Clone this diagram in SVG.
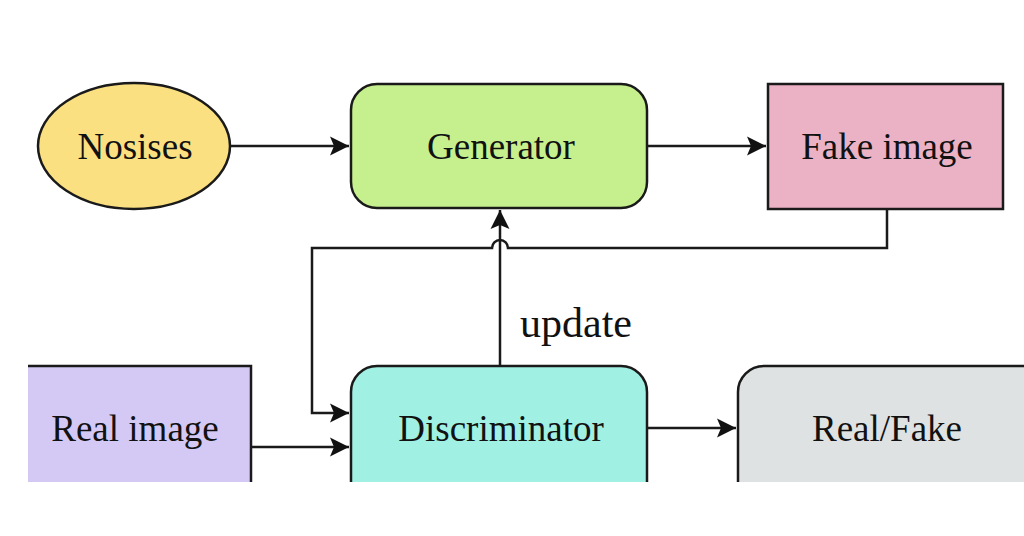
<svg xmlns="http://www.w3.org/2000/svg" width="1024" height="536" viewBox="0 0 1024 536">
<style>
.node{stroke:#1a1a1a;stroke-width:2.5}
.lbl{font-family:"Liberation Serif","Times New Roman",serif;font-size:37px;fill:#111;text-anchor:middle}
.edge{fill:none;stroke:#1a1a1a;stroke-width:2.5}
</style>
<defs>
<marker id="ah" markerUnits="userSpaceOnUse" markerWidth="22" markerHeight="22" refX="19" refY="11" orient="auto">
<path d="M0,1.5 L19,11 L0,20.5 L4,11 Z" fill="#111"/>
</marker>
<clipPath id="crop"><rect x="28" y="0" width="996" height="482"/></clipPath>
</defs>
<rect width="1024" height="536" fill="#fff"/>
<g clip-path="url(#crop)">
<g id="nosises"><ellipse class="node" cx="134" cy="146" rx="96" ry="63" fill="#fbe081"/><text class="lbl" x="135" y="159">Nosises</text></g>
<g id="generator"><rect class="node" x="351" y="84" width="296" height="124" rx="26" fill="#c6f08d"/><text class="lbl" x="501" y="159">Generator</text></g>
<g id="fake-image"><rect class="node" x="768" y="84" width="235" height="125" fill="#ebb1c4"/><text class="lbl" x="887" y="159">Fake image</text></g>
<g id="real-image"><rect class="node" x="20" y="366" width="231" height="140" fill="#d4c9f5"/><text class="lbl" x="135" y="441">Real image</text></g>
<g id="discriminator"><rect class="node" x="351" y="366" width="296" height="150" rx="26" fill="#a0f0e3"/><text class="lbl" x="501" y="441">Discriminator</text></g>
<g id="real-fake"><rect class="node" x="738" y="366" width="320" height="150" rx="26" fill="#dee2e2"/><text class="lbl" x="887" y="441">Real/Fake</text></g>
<g id="connectors">
<path class="edge" d="M230,146 H349" marker-end="url(#ah)"/>
<path class="edge" d="M647,146 H766" marker-end="url(#ah)"/>
<path class="edge" d="M887,209 V248 H508 A8,8 0 0 0 492,248 H312 V413 H349" marker-end="url(#ah)"/>
<path class="edge" d="M500,366 V210" marker-end="url(#ah)"/>
<path class="edge" d="M251,447 H349" marker-end="url(#ah)"/>
<path class="edge" d="M647,428 H736" marker-end="url(#ah)"/>
<text class="lbl" x="520" y="337" style="text-anchor:start;font-size:42px">update</text>
</g>
</g>
</svg>
